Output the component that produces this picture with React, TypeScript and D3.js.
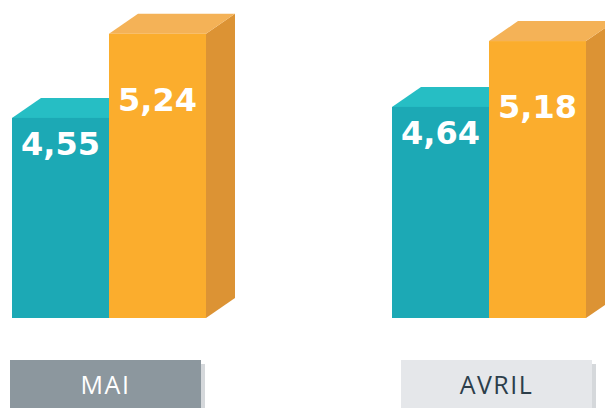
import React from "react";
import * as d3 from "d3";

const categories = ["MAI", "AVRIL"];
const seriesKeys = ["a", "b"];
const seriesA = [4.55, 4.64];
const seriesB = [5.24, 5.18];

const W = 605;
const H = 408;
const baseY = 318;
const depthX = 29;
const depthY = 20;

const colors = {
  a: { front: "#1ca9b5", top: "#26bec4", side: "#16939e" },
  b: { front: "#fbad2d", top: "#f4b257", side: "#dc9334" },
};
const labelOffset: Record<string, number> = { a: 37, b: 77 };

const locale = d3.formatLocale({ decimal: ",", thousands: " ", grouping: [3], currency: ["", "€"] });
const fmt = locale.format(".2f");

export default function App() {
  const x0 = d3.scaleBand().domain(categories).range([12, 586]).paddingInner(0.4895).paddingOuter(0);
  const x1 = d3.scaleBand().domain(seriesKeys).range([0, x0.bandwidth()]);
  const y = d3.scaleLinear().domain([2.91, 5.5]).range([baseY, baseY - 122 * (5.5 - 2.91)]);
  const xBox = d3.scaleBand().domain(categories).range([10, 592]).paddingInner(0.5115).paddingOuter(0);

  const w = x1.bandwidth();
  const poly = (pts: number[][]) => pts.map((p) => p.join(",")).join(" ");

  return (
    <svg width={W} height={H} style={{ position: "absolute", left: 0, top: 0 }}>
      <rect x={0} y={0} width={W} height={H} fill="#ffffff" />
      {categories.map((cat, i) => {
        const vals: Record<string, number> = { a: seriesA[i], b: seriesB[i] };
        return (
          <g key={cat}>
            {seriesKeys.map((k) => {
              const xl = (x0(cat) as number) + (x1(k) as number);
              const yt = y(vals[k]);
              const c = (colors as any)[k];
              return (
                <g key={k}>
                  <polygon
                    points={poly([
                      [xl + w, yt],
                      [xl + w + depthX, yt - depthY],
                      [xl + w + depthX, baseY - depthY],
                      [xl + w, baseY],
                    ])}
                    fill={c.side}
                  />
                  <polygon
                    points={poly([
                      [xl, yt],
                      [xl + depthX, yt - depthY],
                      [xl + w + depthX, yt - depthY],
                      [xl + w, yt],
                    ])}
                    fill={c.top}
                  />
                  <rect x={xl} y={yt} width={w} height={baseY - yt} fill={c.front} />
                </g>
              );
            })}
            {seriesKeys.map((k) => {
              const xl = (x0(cat) as number) + (x1(k) as number);
              const yt = y(vals[k]);
              return (
                <text
                  key={"t" + k}
                  x={xl + w / 2}
                  y={yt + labelOffset[k]}
                  textAnchor="middle"
                  fill="#ffffff"
                  fontFamily="'DejaVu Sans', sans-serif"
                  fontWeight="bold"
                  fontSize={32}
                >
                  {fmt(vals[k])}
                </text>
              );
            })}
            <rect
              x={(xBox(cat) as number) + xBox.bandwidth()}
              y={364}
              width={4}
              height={H - 364}
              fill="#d5d8db"
            />
            <rect
              x={xBox(cat) as number}
              y={360}
              width={xBox.bandwidth()}
              height={H - 360}
              fill={i === 0 ? "#8c979e" : "#e5e7ea"}
            />
            <text
              x={(xBox(cat) as number) + xBox.bandwidth() / 2}
              y={394}
              textAnchor="middle"
              fill={i === 0 ? "#ffffff" : "#2c3e4a"}
              fontFamily="'Open Sans', sans-serif"
              fontSize={25}
              letterSpacing={1.5}
            >
              {cat}
            </text>
          </g>
        );
      })}
    </svg>
  );
}
